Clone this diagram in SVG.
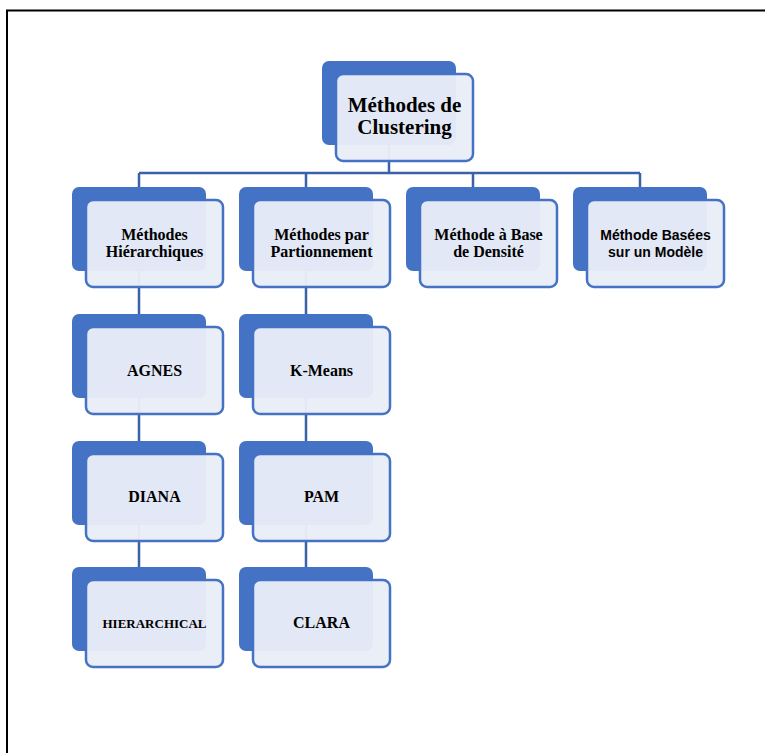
<svg xmlns="http://www.w3.org/2000/svg" width="765" height="753" viewBox="0 0 765 753">
<style>
.bg{fill:#ffffff}
.frame{fill:none;stroke:#000000;stroke-width:2}
.dk{fill:#4472C4}
.lt{fill:#E9EDF7;fill-opacity:0.96;stroke:#4472C4;stroke-width:2.5}
.con{fill:none;stroke:#3A62A8;stroke-width:2.5}
.t{font-family:"Liberation Serif","Times New Roman",serif;font-weight:bold;font-size:16px;fill:#000000;text-anchor:middle}
.big{font-size:21px}
.sm{font-size:13px}
.s{font-family:"Liberation Sans",Arial,sans-serif;font-weight:bold;font-size:14px;fill:#000000;text-anchor:middle}
</style>
<rect class="bg" x="0" y="0" width="765" height="753"/>
<path class="frame" d="M7,753 V10.5 H765"/>
<g id="connectors">
<path class="con" d="M389,145 V173 M139,173 H640 M139,173 V187 M306,173 V187 M473,173 V187 M640,173 V187"/>
<path class="con" d="M139,271 V314 M139,398 V441 M139,525 V567"/>
<path class="con" d="M306,271 V314 M306,398 V441 M306,525 V567"/>
</g>
<g id="root">
<rect class="dk" x="322" y="61" width="134" height="84" rx="7"/>
<rect class="lt" x="336" y="74" width="137" height="87" rx="7"/>
<text class="t big" x="404.5" y="112">Méthodes de</text>
<text class="t big" x="404.5" y="134">Clustering</text>
</g>
<g id="hier">
<rect class="dk" x="72" y="187" width="134" height="84" rx="7"/>
<rect class="lt" x="86" y="200" width="137" height="87" rx="7"/>
<text class="t" x="154.5" y="240">Méthodes</text>
<text class="t" x="154.5" y="257">Hiérarchiques</text>
</g>
<g id="part">
<rect class="dk" x="239" y="187" width="134" height="84" rx="7"/>
<rect class="lt" x="253" y="200" width="137" height="87" rx="7"/>
<text class="t" x="321.5" y="240">Méthodes par</text>
<text class="t" x="321.5" y="257">Partionnement</text>
</g>
<g id="dens">
<rect class="dk" x="406" y="187" width="134" height="84" rx="7"/>
<rect class="lt" x="420" y="200" width="137" height="87" rx="7"/>
<text class="t" x="488.5" y="240">Méthode à Base</text>
<text class="t" x="488.5" y="257">de Densité</text>
</g>
<g id="model">
<rect class="dk" x="573" y="187" width="134" height="84" rx="7"/>
<rect class="lt" x="587" y="200" width="137" height="87" rx="7"/>
<text class="s" x="655.5" y="240">Méthode Basées</text>
<text class="s" x="655.5" y="257">sur un Modèle</text>
</g>
<g id="agnes">
<rect class="dk" x="72" y="314" width="134" height="84" rx="7"/>
<rect class="lt" x="86" y="327" width="137" height="87" rx="7"/>
<text class="t" x="154.5" y="376">AGNES</text>
</g>
<g id="diana">
<rect class="dk" x="72" y="441" width="134" height="84" rx="7"/>
<rect class="lt" x="86" y="454" width="137" height="87" rx="7"/>
<text class="t" x="154.5" y="502">DIANA</text>
</g>
<g id="hierarchical">
<rect class="dk" x="72" y="567" width="134" height="84" rx="7"/>
<rect class="lt" x="86" y="580" width="137" height="87" rx="7"/>
<text class="t sm" x="154.5" y="628">HIERARCHICAL</text>
</g>
<g id="kmeans">
<rect class="dk" x="239" y="314" width="134" height="84" rx="7"/>
<rect class="lt" x="253" y="327" width="137" height="87" rx="7"/>
<text class="t" x="321.5" y="376">K-Means</text>
</g>
<g id="pam">
<rect class="dk" x="239" y="441" width="134" height="84" rx="7"/>
<rect class="lt" x="253" y="454" width="137" height="87" rx="7"/>
<text class="t" x="321.5" y="502">PAM</text>
</g>
<g id="clara">
<rect class="dk" x="239" y="567" width="134" height="84" rx="7"/>
<rect class="lt" x="253" y="580" width="137" height="87" rx="7"/>
<text class="t" x="321.5" y="628">CLARA</text>
</g>
</svg>
